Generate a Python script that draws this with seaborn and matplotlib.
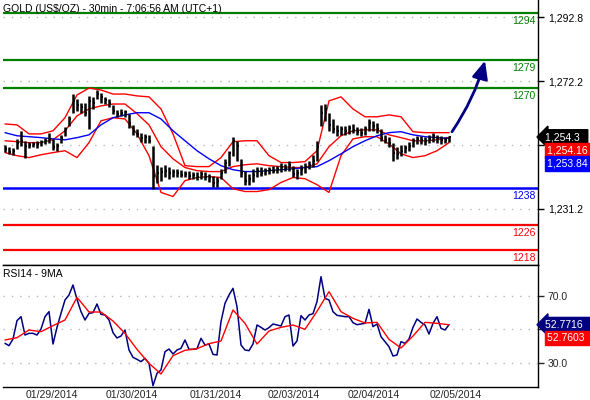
import numpy as np
import pandas as pd
import matplotlib
matplotlib.use("Agg")
import matplotlib.pyplot as plt
import seaborn as sns
from matplotlib.transforms import blended_transform_factory, ScaledTranslation

sns.set_style("white")
plt.rcParams['font.family'] = ['Liberation Sans', 'DejaVu Sans']

# ---------------- data ----------------
TITLE = "GOLD (US$/OZ) - 30min - 7:06:56 AM (UTC+1)"
RSI_TITLE = "RSI14 - 9MA"

high = [1251.8,1251.2,1250.9,1253.7,1256.3,1253.1,1252.8,1252.8,1253.1,1253.4,
        1254.1,1255.7,1253.7,1252.5,1255.0,1257.6,1261.1,1268.1,1266.5,1265.3,
        1265.3,1267.5,1267.2,1269.4,1268.5,1267.2,1266.5,1264.6,1263.0,1263.3,
        1263.0,1261.8,1258.2,1256.9,1255.7,1255.3,1255.0,1251.5,1245.4,1244.8,
        1245.4,1244.8,1244.1,1244.1,1243.8,1243.5,1243.5,1243.2,1243.2,1243.5,
        1243.2,1242.5,1241.9,1241.6,1244.1,1247.3,1249.9,1254.4,1253.1,1247.3,
        1243.5,1242.5,1244.1,1244.8,1244.8,1244.5,1244.8,1245.1,1245.1,1246.1,
        1245.7,1246.7,1245.1,1244.1,1245.4,1246.1,1246.7,1248.6,1253.1,1264.6,
        1264.9,1262.1,1260.1,1258.2,1257.9,1257.9,1258.2,1258.6,1257.6,1257.3,
        1257.9,1260.1,1259.5,1258.9,1256.9,1255.0,1254.4,1252.5,1251.2,1251.8,
        1251.8,1252.8,1254.1,1254.7,1254.7,1254.4,1255.0,1255.7,1255.0,1254.7,
        1254.4,1254.7]
low = [1249.6,1248.9,1248.6,1250.5,1251.5,1247.7,1250.9,1251.2,1250.9,1251.5,
       1252.1,1252.5,1250.2,1249.9,1252.5,1254.7,1257.9,1262.1,1262.7,1262.1,
       1261.1,1256.9,1263.4,1266.5,1265.3,1265.0,1264.0,1261.8,1260.8,1261.1,
       1260.8,1257.3,1255.0,1254.4,1252.8,1252.5,1252.5,1237.7,1239.6,1240.3,
       1241.6,1240.9,1241.6,1241.6,1241.3,1241.3,1240.9,1240.9,1240.6,1240.9,
       1240.6,1240.0,1238.1,1238.1,1240.9,1242.9,1245.1,1248.3,1246.7,1241.3,
       1239.0,1239.0,1239.7,1241.6,1241.9,1242.2,1242.5,1242.9,1242.9,1243.2,
       1243.5,1243.5,1241.3,1240.9,1242.2,1242.9,1244.1,1244.8,1246.7,1257.9,
       1259.5,1256.3,1255.7,1254.7,1255.0,1255.0,1255.3,1255.7,1255.0,1254.7,
       1255.0,1256.3,1256.3,1255.7,1253.1,1252.5,1251.2,1246.7,1247.3,1248.3,
       1249.2,1249.9,1251.2,1252.1,1252.1,1251.8,1252.5,1252.8,1252.5,1252.1,
       1252.5,1252.8]
close = [1250.5,1249.6,1249.9,1252.5,1253.1,1251.5,1251.8,1252.1,1252.1,1252.8,
         1253.1,1253.7,1251.2,1251.5,1254.1,1256.9,1260.1,1265.9,1264.6,1264.0,
         1262.1,1265.9,1265.3,1268.1,1267.2,1266.2,1265.3,1262.7,1261.8,1262.1,
         1262.4,1258.9,1256.3,1255.3,1254.1,1254.4,1253.1,1241.9,1242.9,1243.2,
         1243.5,1242.9,1243.2,1242.9,1242.2,1242.5,1241.9,1242.2,1241.6,1242.5,
         1241.6,1241.3,1239.4,1240.3,1242.9,1246.1,1249.2,1253.1,1251.5,1242.9,
         1240.3,1240.9,1242.2,1243.5,1242.9,1243.5,1243.8,1243.5,1244.1,1244.8,
         1244.5,1245.4,1242.5,1242.9,1244.1,1244.8,1245.4,1246.7,1251.2,1262.1,
         1263.4,1258.2,1256.9,1256.3,1256.9,1256.3,1257.3,1256.6,1256.0,1255.7,
         1256.9,1258.9,1257.9,1256.9,1254.1,1253.4,1252.5,1249.2,1248.9,1249.9,
         1250.9,1251.5,1253.1,1253.7,1253.4,1253.1,1253.7,1254.7,1254.1,1253.4,
         1253.4,1254.3]

BAND_STEP = 3  # bands / moving averages are read every 3rd bar
bb_upper = [1258.5,1258.2,1255.3,1255.3,1256.3,1260.5,1267.8,1270.0,1269.4,1268.1,
            1268.1,1267.5,1267.2,1263.3,1255.3,1245.1,1244.8,1244.8,1247.7,1252.8,
            1253.1,1253.1,1248.3,1246.1,1246.1,1246.4,1249.9,1265.9,1267.2,1263.3,
            1260.8,1260.8,1261.4,1260.8,1256.0,1255.7,1255.7,1255.7]
bb_mid = [1253.1,1252.8,1252.5,1252.5,1253.4,1256.3,1261.1,1263.3,1264.3,1264.9,
          1264.9,1261.8,1258.2,1251.2,1247.3,1244.5,1243.5,1243.2,1243.2,1244.8,
          1245.4,1245.7,1245.1,1244.8,1244.5,1244.5,1245.7,1251.2,1254.7,1256.3,
          1256.6,1256.6,1255.0,1254.1,1253.1,1253.1,1253.4,1254.16]
bb_lower = [1249.3,1248.3,1247.7,1248.6,1249.3,1249.9,1247.7,1252.5,1259.5,1260.5,
            1260.1,1255.3,1248.3,1236.5,1235.2,1240.3,1241.3,1241.6,1241.3,1237.7,
            1236.8,1236.8,1237.4,1239.7,1241.3,1240.9,1239.0,1236.5,1248.3,1253.7,
            1254.4,1254.4,1252.1,1248.9,1247.7,1248.3,1249.9,1252.5]
ma_blue = [1255.7,1254.7,1254.4,1254.1,1253.7,1253.4,1254.1,1255.0,1258.2,1260.5,
           1261.4,1262.1,1262.1,1260.1,1256.3,1253.1,1249.9,1247.3,1245.1,1243.8,
           1243.2,1243.2,1243.5,1243.8,1244.1,1244.5,1244.8,1246.7,1248.9,1251.2,
           1253.1,1254.7,1255.7,1256.0,1255.0,1254.4,1254.1,1253.84]

rsi = [41.6,40.2,44.2,55.2,57.6,46.6,47.6,47.6,46.6,50.2,
       57.6,60.6,41.2,51.2,59.6,67.6,70.6,76.6,68.0,60.6,
       55.6,59.6,60.0,65.2,59.0,58.6,55.6,48.0,44.8,46.0,
       49.6,37.6,33.2,32.0,30.6,32.6,29.6,16.2,23.6,25.6,
       36.6,38.2,35.2,37.6,38.6,43.6,38.0,38.0,38.4,44.6,
       40.6,41.2,35.0,34.6,54.6,65.6,70.6,74.6,63.6,40.6,
       37.6,37.2,41.2,52.6,51.2,49.6,51.0,53.2,52.6,52.0,
       57.6,58.6,40.0,43.0,58.2,55.6,58.6,59.4,66.6,81.6,
       68.6,67.6,60.6,58.4,58.0,57.6,57.6,54.0,52.8,53.2,
       53.6,62.0,51.6,53.2,45.6,42.6,39.6,34.0,34.6,42.6,
       41.6,44.2,51.2,56.2,54.2,52.6,47.2,53.6,57.6,50.6,
       49.6,52.77]
rsi_ma = [43.6,45.0,49.6,48.6,52.2,55.6,69.2,60.4,60.4,55.0,
          47.6,38.0,29.6,23.2,34.2,37.4,38.4,41.4,43.0,61.6,
          53.6,41.2,49.0,51.2,52.6,50.0,60.8,72.6,60.6,56.6,
          53.8,54.2,44.0,38.8,46.0,54.2,53.6,52.76]

day_ticks = [4.5, 24.5, 45.5, 65, 85, 105.5]
day_labels = ["01/29/2014", "01/30/2014", "01/31/2014", "02/03/2014", "02/04/2014", "02/05/2014"]

green_levels = [1294, 1279, 1270]
blue_levels = [1238]
red_levels = [1226, 1218]

price_ticks = [1292.8, 1272.2, 1251.7, 1231.2]
price_tick_labels = ["1,292.8", "1,272.2", "", "1,231.2"]
rsi_ticks = [70, 50, 30]
rsi_tick_labels = ["70.0", "", "30.0"]

last_price, last_mid, last_ma = "1,254.3", "1,254.16", "1,253.84"
last_price_val = 1254.3
last_rsi, last_rsi_ma = "52.7716", "52.7603"
last_rsi_val = 52.7716

arrow_from = (111.75, 1256.0)
arrow_to = (120.0, 1278.8)

# ---------------- figure ----------------
W, H = 590, 400
fig = plt.figure(figsize=(W / 100, H / 100), dpi=100)
fig.patch.set_facecolor("white")
ax = fig.add_axes([3 / W, 135 / H, 535 / W, 265 / H])
ax2 = fig.add_axes([3 / W, 13 / H, 535 / W, 122 / H], sharex=ax)

FS = 7.5
GREEN, BLUE, RED, NAVY = "#008000", "#0000ff", "#ff0000", "#000080"

idx = np.arange(len(close))
bx = np.arange(0, len(close), BAND_STEP)

# level lines
for v in green_levels:
    ax.axhline(v, color=GREEN, lw=1.6, zorder=1)
for v in blue_levels:
    ax.axhline(v, color=BLUE, lw=1.8, zorder=1)
for v in red_levels:
    ax.axhline(v, color=RED, lw=1.6, zorder=1)

trans = blended_transform_factory(ax.transAxes, ax.transData)
for vals, col in ((green_levels, GREEN), (blue_levels, BLUE), (red_levels, RED)):
    for v in vals:
        ax.annotate(str(v), xy=(1.0, v), xycoords=trans, xytext=(-1.5, -2),
                    textcoords="offset points", ha="right", va="top",
                    color=col, fontsize=FS, annotation_clip=False)

# bands and moving average
sns.lineplot(x=bx, y=bb_upper, ax=ax, color=RED, lw=1.0, legend=False, zorder=2)
sns.lineplot(x=bx, y=bb_mid, ax=ax, color=RED, lw=1.0, legend=False, zorder=2)
sns.lineplot(x=bx, y=bb_lower, ax=ax, color=RED, lw=1.0, legend=False, zorder=2)
sns.lineplot(x=bx, y=ma_blue, ax=ax, color=BLUE, lw=1.0, legend=False, zorder=2)

# OHLC bars
ax.vlines(idx, low, high, color="black", lw=1.8, zorder=3)
ax.hlines(close, idx, idx + 0.5, color="black", lw=1.5, zorder=3)

# forecast arrow
ax.annotate("", xy=arrow_to, xytext=arrow_from,
            arrowprops=dict(arrowstyle="-|>,head_length=0.9,head_width=0.4",
                            color=NAVY, lw=2.0, shrinkA=0, shrinkB=0,
                            connectionstyle="arc3,rad=0.08", mutation_scale=12),
            zorder=4)

ax.set_xlim(-0.5, 133.25)
ax.set_ylim(1213.2, 1298.3)
ax.set_yticks(price_ticks)
ax.set_yticklabels(price_tick_labels)
ax.yaxis.tick_right()
ax.tick_params(axis="y", direction="out", length=4, width=1, pad=3,
               labelsize=FS, colors="black", right=True, left=False)
ax.tick_params(axis="x", bottom=False, labelbottom=False)
ax.grid(axis="y", color="#b8b8b8", linestyle=(0, (1, 5)), lw=1)
ax.grid(axis="x", visible=False)
for s in ("top", "left"):
    ax.spines[s].set_visible(False)
for s in ("right", "bottom"):
    ax.spines[s].set_color("black")
    ax.spines[s].set_linewidth(1.0)
ax.set_xlabel("")
ax.set_ylabel("")

# value boxes on price axis
ax.annotate(last_price + "  ", xy=(1.0, last_price_val), xycoords=trans,
            xytext=(5, 0), textcoords="offset points", ha="left", va="center",
            color="white", fontsize=FS, annotation_clip=False, zorder=10,
            bbox=dict(boxstyle="larrow,pad=0.22", fc="black", ec="black"))
ax.annotate(last_mid + " ", xy=(1.0, last_price_val), xycoords=trans,
            xytext=(6.5, -9.6), textcoords="offset points", ha="left", va="center",
            color="white", fontsize=FS, annotation_clip=False, zorder=10,
            bbox=dict(boxstyle="square,pad=0.22", fc=RED, ec=RED))
ax.annotate(last_ma + " ", xy=(1.0, last_price_val), xycoords=trans,
            xytext=(6.5, -19.0), textcoords="offset points", ha="left", va="center",
            color="white", fontsize=FS, annotation_clip=False, zorder=10,
            bbox=dict(boxstyle="square,pad=0.22", fc=BLUE, ec=BLUE))

fig.text(3 / W, 1 - 11.5 / H, TITLE, fontsize=FS, color="black", va="baseline", ha="left")

# ---------------- RSI panel ----------------
sns.lineplot(x=idx, y=rsi, ax=ax2, color=NAVY, lw=1.1, legend=False, zorder=3)
sns.lineplot(x=bx, y=rsi_ma, ax=ax2, color=RED, lw=1.0, legend=False, zorder=3)
ax2.set_ylim(15.4, 88.6)
ax2.set_yticks(rsi_ticks)
ax2.set_yticklabels(rsi_tick_labels)
ax2.yaxis.tick_right()
ax2.tick_params(axis="y", direction="out", length=4, width=1, pad=3,
                labelsize=FS, right=True, left=False)
ax2.grid(axis="y", color="#b8b8b8", linestyle=(0, (1, 5)), lw=1)
ax2.grid(axis="x", visible=False)
ax2.set_xticks(day_ticks)
ax2.set_xticklabels(day_labels, ha="left")
ax2.tick_params(axis="x", direction="out", length=5, width=1, pad=-3, labelsize=FS)
off = ScaledTranslation(3 / 100, 0, fig.dpi_scale_trans)
for lab in ax2.get_xticklabels():
    lab.set_transform(lab.get_transform() + off)
ax2.spines["left"].set_visible(False)
for s in ("top", "right", "bottom"):
    ax2.spines[s].set_color("black")
    ax2.spines[s].set_linewidth(1.0)
ax2.set_xlabel("")
ax2.set_ylabel("")
ax2.text(0.0, 0.97, RSI_TITLE, transform=ax2.transAxes, ha="left", va="top",
         fontsize=FS, color="black")

trans2 = blended_transform_factory(ax2.transAxes, ax2.transData)
ax2.annotate(last_rsi + "  ", xy=(1.0, last_rsi_val), xycoords=trans2,
             xytext=(5, 0), textcoords="offset points", ha="left", va="center",
             color="white", fontsize=FS, annotation_clip=False, zorder=10,
             bbox=dict(boxstyle="larrow,pad=0.22", fc=NAVY, ec=NAVY))
ax2.annotate(last_rsi_ma + " ", xy=(1.0, last_rsi_val), xycoords=trans2,
             xytext=(6.5, -9.6), textcoords="offset points", ha="left", va="center",
             color="white", fontsize=FS, annotation_clip=False, zorder=10,
             bbox=dict(boxstyle="square,pad=0.22", fc=RED, ec=RED))

fig.savefig("out.png", dpi=100, facecolor="white")
